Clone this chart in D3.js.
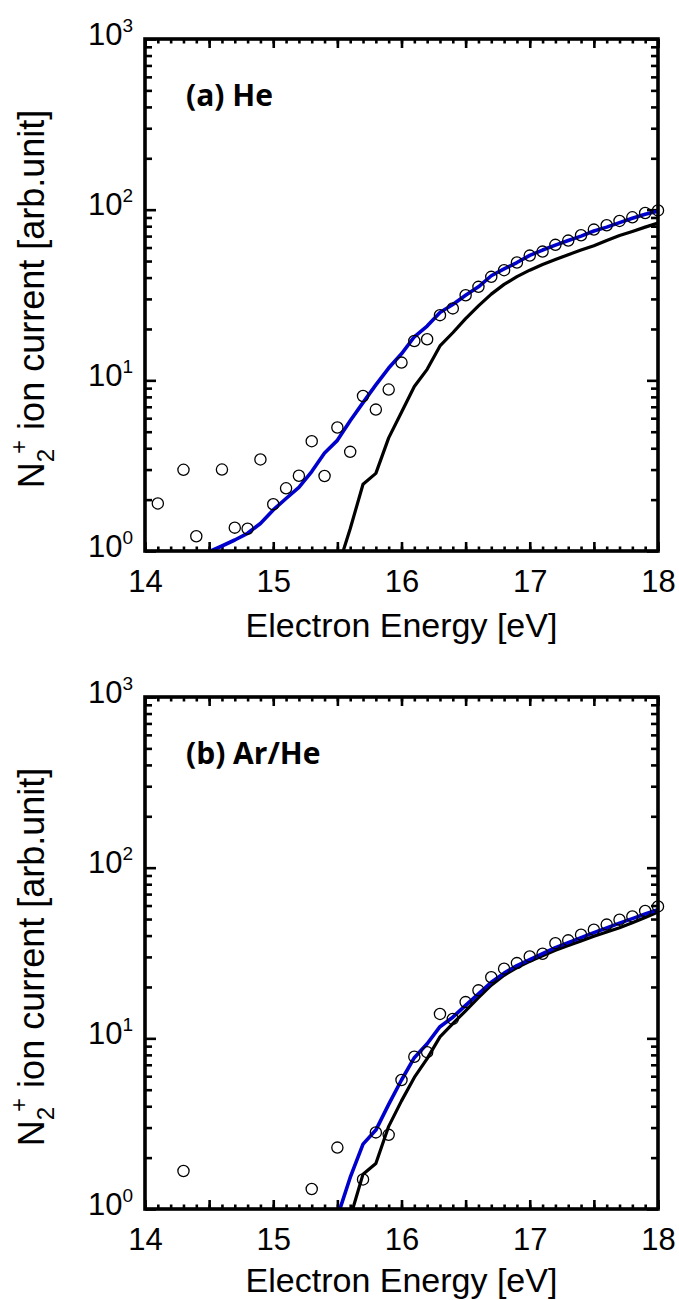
<!DOCTYPE html>
<html>
<head>
<meta charset="utf-8">
<script src="https://cdn.jsdelivr.net/npm/d3@7"></script>
<style>body{margin:0;background:#fff}</style>
</head>
<body>
<script>
// ---- panel (a) He ----
var expA_E = [14.1,14.3,14.4,14.6,14.7,14.8,14.9,15.0,15.1,15.2,15.3,15.4,15.5,15.6,15.7,15.8,15.9,16.0,16.1,16.2,16.3,16.4,16.5,16.6,16.7,16.8,16.9,17.0,17.1,17.2,17.3,17.4,17.5,17.6,17.7,17.8,17.9,18.0]
var expA = [1.90,2.99,1.22,3.00,1.37,1.35,3.44,1.88,2.33,2.76,4.40,2.75,5.29,3.81,8.09,6.74,8.83,12.7,17.0,17.4,24.1,26.4,31.5,35.3,40.4,44.2,49.0,53.8,56.8,62.2,65.9,70.8,76.4,81.0,85.9,90.2,95.6,99.0]
var blueA_E = [14.5,14.6,14.7,14.8,14.9,15.0,15.1,15.2,15.3,15.4,15.5,15.6,15.7,15.8,15.9,16.0,16.1,16.2,16.3,16.4,16.5,16.6,16.7,16.8,16.9,17.0,17.1,17.2,17.3,17.4,17.5,17.6,17.7,17.8,17.9,18.0]
var blueA = [0.99,1.07,1.16,1.27,1.45,1.74,2.03,2.36,2.92,3.75,4.45,5.8,7.4,9.4,11.8,14.3,18.0,20.8,25.0,27.8,31.5,35.3,41.0,45.0,49.0,54.0,58.0,62.0,66.0,70.0,75.0,79.0,84.0,89.0,94.0,98.0]
var blackA_E = [15.5,15.6,15.7,15.8,15.9,16.0,16.1,16.2,16.3,16.4,16.5,16.6,16.7,16.8,16.9,17.0,17.1,17.2,17.3,17.4,17.5,17.6,17.7,17.8,17.9,18.0]
var blackA = [0.78,1.35,2.46,2.85,4.6,6.5,9.2,11.6,15.9,19.0,23.0,27.3,32.0,36.5,40.5,44.2,47.7,51.0,54.5,58.0,61.5,66.0,70.5,74.5,79.0,83.6]

// ---- panel (b) Ar/He ----
var expB_E = [14.3,15.3,15.5,15.7,15.8,15.9,16.0,16.1,16.2,16.3,16.4,16.5,16.6,16.7,16.8,16.9,17.0,17.1,17.2,17.3,17.4,17.5,17.6,17.7,17.8,17.9,18.0]
var expB = [1.67,1.31,2.29,1.49,2.81,2.72,5.70,7.8,8.3,13.9,13.0,16.3,19.1,22.8,25.6,27.6,30.2,31.3,36.1,37.5,40.5,43.3,46.4,49.6,51.8,55.7,59.3]
var blueB_E = [15.5,15.6,15.7,15.8,15.9,16.0,16.1,16.2,16.3,16.4,16.5,16.6,16.7,16.8,16.9,17.0,17.1,17.2,17.3,17.4,17.5,17.6,17.7,17.8,17.9,18.0]
var blueB = [0.9,1.53,2.4,2.9,4.1,5.7,7.7,9.3,11.7,13.3,15.6,18.2,21.3,24.1,26.7,28.9,31.4,34.0,36.4,38.9,41.6,44.3,47.3,50.3,53.5,56.8]
var blackB_E = [15.6,15.7,15.8,15.9,16.0,16.1,16.2,16.3,16.4,16.5,16.6,16.7,16.8,16.9,17.0,17.1,17.2,17.3,17.4,17.5,17.6,17.7,17.8,17.9,18.0]
var blackB = [0.89,1.6,1.85,3.05,4.3,5.9,7.6,10.2,12.2,14.5,17.3,20.5,23.4,26.0,28.3,30.5,32.8,35.0,37.2,39.6,42.0,44.5,47.5,51.0,55.0]

// ticks
var xLabels = [14,15,16,17,18]
var xMajor = [14,14.5,15,15.5,16,16.5,17,17.5,18]
var yMajor = [1,10,100,1000]
var yExp = ['0','1','2','3']

var xMinor = d3.range(140,181).map(d => d/10)
var yMinor = []
;[1,10,100].forEach(p => { for (var k=2;k<10;k++) yMinor.push(k*p) })

var font = "'Liberation Sans', Arial, sans-serif"
var W = 513, H = 512, left = 145

var svg = d3.select('body').append('svg').attr('width',679).attr('height',1300)

var x = d3.scaleLinear().domain([14,18]).range([0,W])
var y = d3.scaleLog().domain([1,1000]).range([H,0])

function styleAxis(g) {
    g.select('.domain').remove()
    g.selectAll('line').attr('stroke','#000').attr('stroke-width',2.6)
    g.attr('font-size',31).attr('font-family',font)
}

function drawPanel(top, titleGap, label, id, expE, expV, blackE, blackV, blueE, blueV) {
    var g = svg.append('g').attr('transform',`translate(${left},${top})`)

    g.append('clipPath').attr('id',id).append('rect').attr('width',W).attr('height',H)

    // bottom / top x ticks
    g.append('g').attr('transform',`translate(0,${H})`)
        .call(d3.axisBottom(x).tickValues(xMajor).tickSize(-9).tickPadding(19)
            .tickFormat(d => xLabels.includes(d) ? d : ''))
        .call(styleAxis)
    g.append('g').attr('transform',`translate(0,${H})`)
        .call(d3.axisBottom(x).tickValues(xMinor).tickSize(-4.5).tickFormat(''))
        .call(styleAxis)
    g.append('g').call(d3.axisTop(x).tickValues(xMajor).tickSize(-9).tickFormat('')).call(styleAxis)
    g.append('g').call(d3.axisTop(x).tickValues(xMinor).tickSize(-4.5).tickFormat('')).call(styleAxis)

    // left / right y ticks
    var yl = g.append('g').call(d3.axisLeft(y).tickValues(yMajor).tickSize(-11).tickFormat('')).call(styleAxis)
    g.append('g').call(d3.axisLeft(y).tickValues(yMinor).tickSize(-7).tickFormat('')).call(styleAxis)
    g.append('g').attr('transform',`translate(${W},0)`)
        .call(d3.axisRight(y).tickValues(yMajor).tickSize(-11).tickFormat('')).call(styleAxis)
    g.append('g').attr('transform',`translate(${W},0)`)
        .call(d3.axisRight(y).tickValues(yMinor).tickSize(-7).tickFormat('')).call(styleAxis)

    // 10^n labels
    yl.selectAll('.tick text').remove()
    yl.selectAll('.tick').each(function(d,i) {
        var t = d3.select(this).append('text').attr('x',-12).attr('y',5)
            .attr('text-anchor','end').attr('fill','#000').attr('font-size',31)
        t.append('tspan').text('10')
        t.append('tspan').attr('font-size',19).attr('dy',-13).text(yExp[yMajor.indexOf(d)])
    })

    // lines
    var line = d3.line().x(d => x(d[0])).y(d => y(d[1]))
    g.append('path').datum(d3.zip(blackE, blackV)).attr('d', line)
        .attr('clip-path',`url(#${id})`).attr('fill','none').attr('stroke','#000')
        .attr('stroke-width',3.2).attr('stroke-linejoin','round')
    g.append('path').datum(d3.zip(blueE, blueV)).attr('d', line)
        .attr('clip-path',`url(#${id})`).attr('fill','none').attr('stroke','#0000cc')
        .attr('stroke-width',3.6).attr('stroke-linejoin','round')

    // measured points
    g.selectAll('circle.pt').data(d3.zip(expE, expV)).enter().append('circle')
        .attr('class','pt')
        .attr('cx', d => x(d[0])).attr('cy', d => y(d[1])).attr('r',5.6)
        .attr('fill','none').attr('stroke','#000').attr('stroke-width',1.3)

    // frame
    g.append('rect').attr('width',W).attr('height',H)
        .attr('fill','none').attr('stroke','#000').attr('stroke-width',3.6)

    // panel label
    g.append('text').attr('x',41).attr('y',67).text(label)
        .attr('font-family',"'Open Sans', sans-serif").attr('font-weight','bold')
        .attr('font-size',30)

    // axis titles
    g.append('text').attr('x',W/2).attr('y',H+titleGap).attr('text-anchor','middle')
        .attr('font-family',font).attr('font-size',34).text('Electron Energy [eV]')

    var yt = g.append('text').attr('transform',`translate(${44-left},${H/2 + 4}) rotate(-90)`)
        .attr('text-anchor','middle').attr('font-family',font).attr('font-size',36)
    yt.append('tspan').text('N')
    yt.append('tspan').attr('font-size',24).attr('dy',10).text('2')
    yt.append('tspan').attr('font-size',24).attr('dy',-27).attr('dx',-5).text('+')
    yt.append('tspan').attr('dy',17).text(' ion current [arb.unit]')
}

drawPanel(39, 86, '(a) He', 'clipA', expA_E, expA, blackA_E, blackA, blueA_E, blueA)
drawPanel(697, 83, '(b) Ar/He', 'clipB', expB_E, expB, blackB_E, blackB, blueB_E, blueB)
</script>
</body>
</html>
